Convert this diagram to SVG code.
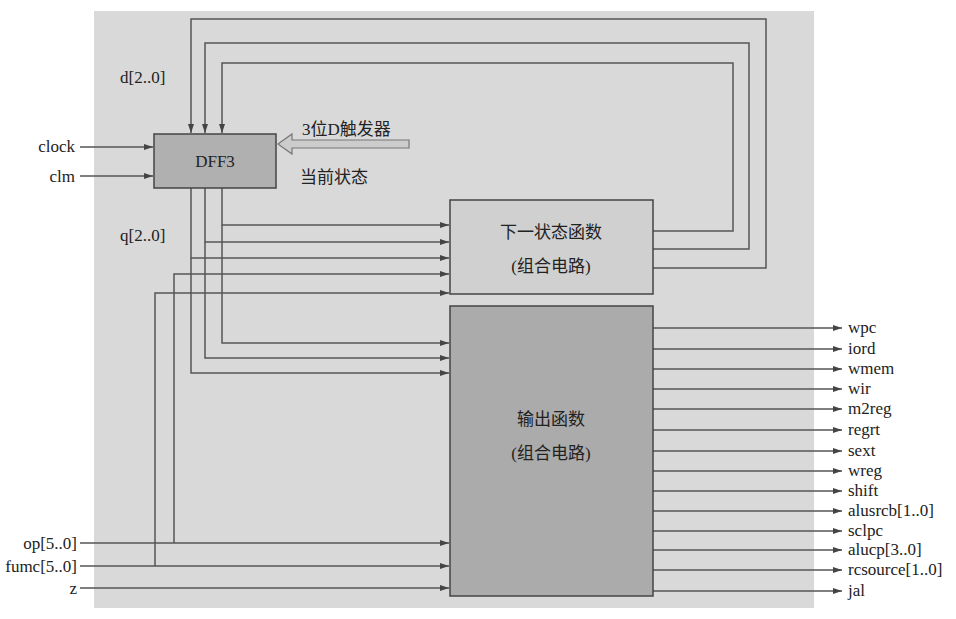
<svg xmlns="http://www.w3.org/2000/svg" width="956" height="619" viewBox="0 0 956 619">
<style>
.w{fill:none;stroke:#555;stroke-width:1.5}
.a{fill:none;stroke:#555;stroke-width:1.5;marker-end:url(#ar)}
text{font-family:'Liberation Serif','Times New Roman','DejaVu Serif','Noto Sans CJK SC',serif;font-size:17px;fill:#222}
.c{text-anchor:middle}
.r{text-anchor:end}
</style>
<defs><marker id="ar" markerWidth="10" markerHeight="8" refX="9" refY="4" orient="auto" markerUnits="userSpaceOnUse"><path d="M0,1 L9,4 L0,7 Z" fill="#444"/></marker></defs>
<rect width="956" height="619" fill="#fff"/>
<rect x="94" y="11" width="720" height="597" fill="#d9d9d9"/>
<g id="connectors">
<path class="a" d="M80,147 H153"/><path class="a" d="M80,176 H153"/>
<path class="a" d="M653,268 H766 V19 H191 V133"/>
<path class="a" d="M653,249 H749 V43 H205 V133"/>
<path class="a" d="M653,231 H733 V63 H222 V133"/>
<path class="a" d="M222,188 V225 H449"/><path class="a" d="M222,225 V343 H449"/>
<path class="a" d="M205,188 V242 H449"/><path class="a" d="M205,242 V358 H449"/>
<path class="a" d="M191,188 V258 H449"/><path class="a" d="M191,258 V373 H449"/>
<path class="a" d="M174,543 V274 H449"/><path class="a" d="M155,566 V293 H449"/>
<path class="a" d="M80,543 H449"/><path class="a" d="M80,566 H449"/><path class="a" d="M80,588 H449"/>
<path class="a" d="M653,328 H842"/><path class="a" d="M653,349 H842"/><path class="a" d="M653,369 H842"/><path class="a" d="M653,389 H842"/><path class="a" d="M653,409 H842"/><path class="a" d="M653,430 H842"/><path class="a" d="M653,451 H842"/><path class="a" d="M653,471 H842"/><path class="a" d="M653,491 H842"/><path class="a" d="M653,511 H842"/><path class="a" d="M653,531 H842"/><path class="a" d="M653,550 H842"/><path class="a" d="M653,570 H842"/><path class="a" d="M653,591 H842"/>
<path d="M409,140 H292 V134 L278,144 L292,154 V148 H409 Z" fill="#ccc" stroke="#777" stroke-width="1.2"/>
</g>
<g id="dff3"><rect x="154" y="134" width="122" height="54" fill="#b0b0b0" stroke="#444" stroke-width="1.5"/><text class="c" x="215" y="167">DFF3</text></g>
<g id="next"><rect x="450" y="200" width="203" height="94" fill="#d0d0d0" stroke="#444" stroke-width="1.5"/><text class="c" x="551" y="238">下一状态函数</text><text class="c" x="551" y="272">(组合电路)</text></g>
<g id="out"><rect x="450" y="306" width="203" height="290" fill="#ababab" stroke="#444" stroke-width="1.5"/><text class="c" x="551" y="425">输出函数</text><text class="c" x="551" y="459">(组合电路)</text></g>
<g id="labels">
<text class="r" x="75" y="152">clock</text><text class="r" x="75" y="182">clm</text>
<text x="120" y="83">d[2..0]</text><text x="120" y="241">q[2..0]</text>
<text x="302" y="135">3位D触发器</text><text x="300" y="183">当前状态</text>
<text class="r" x="77" y="549">op[5..0]</text><text class="r" x="77" y="572">fumc[5..0]</text><text class="r" x="77" y="594">z</text>
<text x="848" y="333">wpc</text><text x="848" y="354">iord</text><text x="848" y="374">wmem</text><text x="848" y="394">wir</text><text x="848" y="414">m2reg</text><text x="848" y="435">regrt</text><text x="848" y="456">sext</text><text x="848" y="476">wreg</text><text x="848" y="496">shift</text><text x="848" y="516">alusrcb[1..0]</text><text x="848" y="536">sclpc</text><text x="848" y="555">alucp[3..0]</text><text x="848" y="575">rcsource[1..0]</text><text x="848" y="596">jal</text>
</g>
</svg>
